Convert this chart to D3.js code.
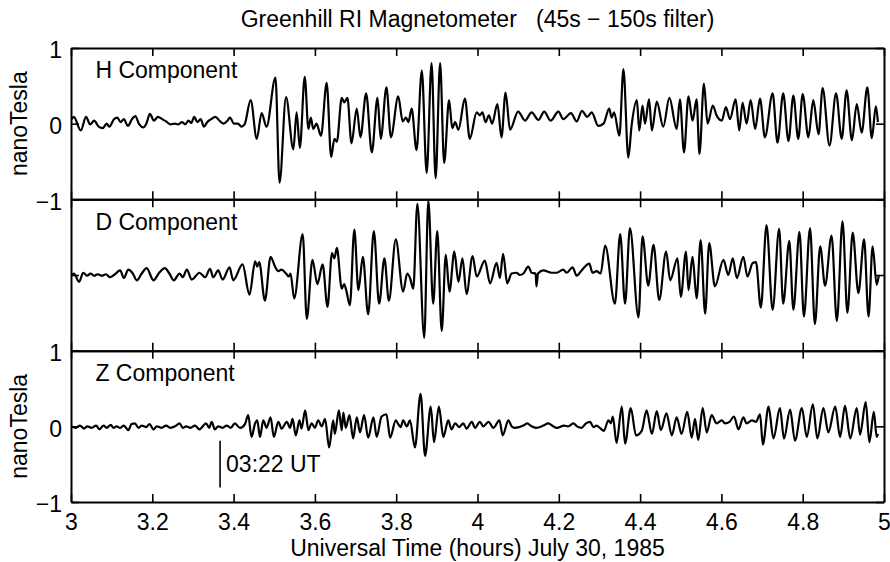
<!DOCTYPE html>
<html>
<head>
<meta charset="utf-8">
<script src="https://cdn.jsdelivr.net/npm/d3@7"></script>
<style>
  body { margin: 0; background: #fff; }
  svg text { font-family: "Liberation Sans", Arial, Helvetica, sans-serif; fill: #000; }
</style>
</head>
<body>
<svg id="chart" width="890" height="562"></svg>
<script>
/* Filtered magnetometer traces, [hours UT, nanoTesla] at the turning points */
var hSeries = [
  [3.002,0.06],[3.007,0.09],[3.024,-0.09],[3.037,0.09],[3.047,-0.01],[3.057,0.04],[3.068,-0.04],[3.078,-0.06],[3.088,0.00],[3.094,-0.04],
  [3.106,0.06],[3.114,0.08],[3.122,0.02],[3.130,0.06],[3.140,-0.03],[3.150,0.06],[3.158,0.10],[3.168,-0.01],[3.178,-0.05],[3.186,0.01],
  [3.194,0.13],[3.204,0.04],[3.214,0.09],[3.224,0.06],[3.234,0.03],[3.245,-0.01],[3.255,0.00],[3.263,-0.01],[3.273,0.02],[3.281,-0.01],
  [3.289,0.04],[3.296,0.01],[3.303,0.09],[3.311,0.02],[3.319,0.06],[3.327,-0.04],[3.335,0.02],[3.345,0.06],[3.355,0.09],[3.367,0.03],
  [3.375,0.00],[3.385,0.04],[3.391,0.08],[3.401,0.00],[3.411,0.00],[3.419,-0.04],[3.427,-0.01],[3.442,0.31],[3.457,-0.20],[3.469,0.14],
  [3.481,-0.04],[3.503,0.61],[3.513,-0.78],[3.529,0.35],[3.547,-0.34],[3.555,0.15],[3.563,-0.32],[3.575,0.62],[3.584,-0.07],[3.590,0.08],
  [3.596,-0.07],[3.604,0.00],[3.615,-0.16],[3.629,0.54],[3.640,-0.44],[3.648,-0.20],[3.654,-0.24],[3.666,0.34],[3.672,0.28],[3.680,0.34],
  [3.690,-0.26],[3.703,0.20],[3.712,-0.18],[3.726,0.40],[3.740,-0.38],[3.754,0.34],[3.762,-0.20],[3.776,0.48],[3.787,-0.18],[3.805,0.36],
  [3.816,0.03],[3.824,0.08],[3.830,0.02],[3.838,0.20],[3.850,-0.35],[3.863,0.70],[3.875,-0.65],[3.887,0.80],[3.897,-0.72],[3.908,0.80],
  [3.918,-0.52],[3.930,0.31],[3.938,-0.06],[3.945,0.02],[3.953,-0.08],[3.969,0.33],[3.981,-0.20],[3.998,0.15],[4.006,0.11],[4.012,0.15],
  [4.020,0.02],[4.028,0.11],[4.036,0.00],[4.049,0.26],[4.059,-0.18],[4.069,0.41],[4.080,-0.08],[4.100,0.16],[4.117,0.04],[4.133,0.15],
  [4.150,0.05],[4.164,0.16],[4.180,0.04],[4.199,0.16],[4.211,0.06],[4.230,0.14],[4.244,0.03],[4.257,0.17],[4.270,0.09],[4.281,0.15],
  [4.297,-0.03],[4.310,0.00],[4.324,0.20],[4.330,0.08],[4.336,0.15],[4.349,-0.16],[4.359,0.72],[4.371,-0.45],[4.379,-0.03],[4.392,0.31],
  [4.398,-0.09],[4.406,0.24],[4.412,0.00],[4.422,0.32],[4.429,-0.09],[4.441,0.29],[4.457,-0.04],[4.472,0.34],[4.490,-0.07],[4.498,0.32],
  [4.508,-0.38],[4.519,0.36],[4.529,0.04],[4.539,0.32],[4.546,-0.40],[4.557,0.53],[4.566,0.00],[4.579,0.24],[4.588,0.11],[4.601,0.04],
  [4.611,0.22],[4.621,0.06],[4.635,0.32],[4.644,-0.09],[4.652,0.28],[4.662,0.00],[4.672,0.31],[4.683,-0.07],[4.695,0.33],[4.707,-0.18],
  [4.726,0.40],[4.738,-0.25],[4.752,0.40],[4.765,-0.23],[4.777,0.37],[4.789,-0.20],[4.800,0.39],[4.814,-0.18],[4.826,0.31],[4.839,-0.14],
  [4.849,0.47],[4.866,-0.29],[4.882,0.40],[4.896,-0.20],[4.908,0.44],[4.921,-0.22],[4.933,0.26],[4.945,-0.12],[4.959,0.48],[4.970,-0.19],
  [4.980,0.23],[4.985,0.02]
];

var dSeries = [
  [3.002,0.00],[3.007,0.02],[3.020,-0.09],[3.030,0.03],[3.040,-0.01],[3.048,0.02],[3.057,-0.01],[3.066,0.01],[3.076,-0.01],[3.086,0.01],
  [3.096,-0.03],[3.108,0.01],[3.121,0.06],[3.130,-0.04],[3.141,0.07],[3.152,0.02],[3.162,-0.07],[3.174,0.02],[3.186,0.09],[3.203,-0.07],
  [3.217,0.03],[3.231,0.09],[3.242,0.02],[3.253,-0.07],[3.267,0.02],[3.275,-0.03],[3.285,0.07],[3.297,-0.06],[3.316,0.03],[3.330,-0.03],
  [3.342,0.08],[3.350,-0.03],[3.362,0.06],[3.373,-0.06],[3.390,0.10],[3.399,-0.07],[3.422,0.14],[3.439,-0.26],[3.453,0.18],[3.458,0.11],
  [3.463,0.17],[3.477,-0.34],[3.491,0.24],[3.502,0.11],[3.510,0.05],[3.518,0.07],[3.529,0.02],[3.536,-0.02],[3.540,0.02],[3.549,-0.31],
  [3.570,0.54],[3.580,-0.58],[3.594,0.20],[3.606,-0.12],[3.619,0.14],[3.631,-0.42],[3.642,0.29],[3.648,0.22],[3.654,0.36],[3.666,-0.18],
  [3.672,-0.12],[3.677,-0.20],[3.686,-0.40],[3.697,0.60],[3.707,-0.20],[3.718,0.24],[3.731,-0.52],[3.745,0.58],[3.758,-0.38],[3.771,0.22],
  [3.782,-0.34],[3.799,0.47],[3.817,-0.22],[3.827,0.02],[3.834,-0.04],[3.842,-0.18],[3.852,0.94],[3.869,-0.83],[3.879,0.98],[3.891,-0.38],
  [3.901,0.58],[3.912,-0.74],[3.922,0.27],[3.931,-0.22],[3.943,0.31],[3.953,-0.09],[3.963,0.22],[3.973,-0.25],[3.988,0.25],[3.998,-0.02],
  [4.018,0.19],[4.031,-0.11],[4.047,0.16],[4.055,-0.04],[4.063,0.28],[4.073,-0.11],[4.084,0.02],[4.096,0.03],[4.104,0.00],[4.113,0.02],
  [4.125,0.11],[4.133,0.03],[4.143,0.02],[4.145,-0.15],[4.149,0.02],[4.162,0.06],[4.182,0.03],[4.195,0.03],[4.211,0.07],[4.219,0.03],
  [4.234,0.10],[4.244,-0.01],[4.256,0.06],[4.275,0.15],[4.283,0.03],[4.293,0.05],[4.303,0.02],[4.314,0.39],[4.338,-0.38],[4.351,0.54],
  [4.363,-0.38],[4.375,0.62],[4.396,-0.56],[4.406,0.51],[4.420,-0.14],[4.433,0.40],[4.447,-0.33],[4.464,0.31],[4.474,-0.07],[4.492,0.22],
  [4.500,-0.29],[4.513,0.31],[4.519,-0.20],[4.529,0.24],[4.539,-0.31],[4.549,0.46],[4.560,-0.51],[4.570,0.42],[4.584,-0.15],[4.605,0.20],
  [4.617,0.00],[4.628,0.22],[4.638,-0.04],[4.654,0.24],[4.664,-0.02],[4.677,0.16],[4.685,0.17],[4.697,-0.43],[4.711,0.66],[4.726,-0.46],
  [4.742,0.61],[4.752,-0.38],[4.767,0.45],[4.777,-0.46],[4.792,0.57],[4.803,-0.55],[4.818,0.62],[4.830,-0.65],[4.843,0.38],[4.855,-0.14],
  [4.871,0.52],[4.884,-0.61],[4.898,0.71],[4.910,-0.50],[4.923,0.56],[4.937,-0.24],[4.951,0.47],[4.962,-0.55],[4.972,0.38],[4.982,-0.13],
  [4.987,-0.01]
];

var zSeries = [
  [3.002,0.00],[3.012,-0.02],[3.022,0.01],[3.032,-0.03],[3.040,0.00],[3.051,-0.02],[3.062,0.01],[3.070,-0.04],[3.080,0.01],[3.088,-0.02],
  [3.098,0.02],[3.104,-0.02],[3.112,0.00],[3.121,-0.02],[3.130,0.01],[3.141,-0.05],[3.149,0.03],[3.157,0.04],[3.166,-0.02],[3.174,0.01],
  [3.185,-0.01],[3.193,0.03],[3.203,-0.04],[3.211,0.00],[3.223,-0.02],[3.234,0.01],[3.244,-0.02],[3.256,0.00],[3.267,0.04],[3.275,-0.02],
  [3.283,0.00],[3.294,-0.02],[3.305,0.01],[3.316,-0.04],[3.324,0.00],[3.332,0.04],[3.340,-0.02],[3.346,0.06],[3.354,-0.04],[3.362,0.00],
  [3.373,-0.02],[3.383,0.01],[3.393,-0.02],[3.403,0.04],[3.416,-0.02],[3.428,0.03],[3.436,0.15],[3.444,-0.14],[3.453,0.04],[3.458,0.08],
  [3.465,-0.14],[3.473,0.08],[3.481,-0.02],[3.491,0.12],[3.499,-0.14],[3.510,0.06],[3.518,-0.03],[3.531,0.06],[3.539,-0.02],[3.545,0.10],
  [3.553,-0.12],[3.562,0.08],[3.567,-0.03],[3.576,0.21],[3.584,-0.05],[3.592,0.04],[3.600,-0.02],[3.608,0.08],[3.617,0.00],[3.625,0.10],
  [3.635,-0.28],[3.645,0.08],[3.649,-0.10],[3.659,0.21],[3.666,-0.05],[3.670,0.18],[3.676,-0.02],[3.685,0.15],[3.694,-0.16],[3.703,0.12],
  [3.711,-0.08],[3.721,0.15],[3.731,-0.15],[3.744,0.12],[3.752,-0.14],[3.764,0.13],[3.776,0.16],[3.785,-0.15],[3.799,0.08],[3.805,0.03],
  [3.811,-0.01],[3.817,0.08],[3.826,0.00],[3.834,0.08],[3.846,-0.28],[3.860,0.43],[3.871,-0.39],[3.885,0.26],[3.893,-0.21],[3.905,0.26],
  [3.916,-0.14],[3.928,0.08],[3.936,-0.04],[3.945,0.04],[3.955,-0.01],[3.965,0.04],[3.973,-0.03],[3.986,0.06],[3.994,-0.02],[4.006,0.06],
  [4.014,0.00],[4.027,0.06],[4.039,-0.02],[4.054,0.08],[4.062,-0.12],[4.076,0.08],[4.084,0.00],[4.092,-0.02],[4.113,0.01],[4.122,0.04],
  [4.133,0.00],[4.144,-0.02],[4.162,0.01],[4.174,0.04],[4.186,0.00],[4.195,-0.02],[4.213,0.01],[4.223,0.00],[4.236,0.04],[4.245,0.00],
  [4.256,-0.02],[4.267,0.04],[4.277,0.06],[4.285,-0.01],[4.293,0.01],[4.301,-0.02],[4.311,-0.06],[4.322,0.08],[4.328,0.04],[4.333,0.13],
  [4.342,-0.22],[4.355,0.26],[4.363,-0.23],[4.377,0.24],[4.390,-0.12],[4.404,-0.06],[4.416,0.21],[4.429,-0.10],[4.441,0.20],[4.451,-0.05],
  [4.465,0.17],[4.478,-0.12],[4.490,0.12],[4.502,-0.10],[4.516,0.19],[4.527,-0.15],[4.535,0.10],[4.543,-0.18],[4.554,0.24],[4.564,-0.08],
  [4.576,0.15],[4.588,0.04],[4.601,0.08],[4.609,0.04],[4.620,0.06],[4.631,0.13],[4.642,-0.04],[4.654,0.12],[4.662,0.04],[4.675,0.08],
  [4.685,0.06],[4.695,0.16],[4.702,-0.24],[4.716,0.26],[4.728,-0.16],[4.744,0.24],[4.754,-0.16],[4.769,0.22],[4.781,-0.19],[4.798,0.24],
  [4.810,-0.14],[4.825,0.29],[4.836,-0.16],[4.851,0.24],[4.863,-0.08],[4.880,0.26],[4.892,-0.14],[4.904,0.27],[4.917,-0.16],[4.933,0.24],
  [4.941,-0.11],[4.955,0.32],[4.964,-0.21],[4.975,0.19],[4.982,-0.14],[4.985,-0.10]
];

var panelNames = ["H Component", "D Component", "Z Component"];
var xTicks = [3, 3.2, 3.4, 3.6, 3.8, 4, 4.2, 4.4, 4.6, 4.8, 5];
var yTicks = [-1, 0, 1];
var yTickLabels = ["\u22121", "0", "1"];

/* Start of the pulsation event, marked on the Z trace */
var markerTime = 3.3667;
var markerSpan = [-0.19, -0.81];
var markerText = "03:22 UT";

var titleText = "Greenhill RI Magnetometer \u00a0\u00a0(45s \u2212 150s filter)";
var xLabelText = "Universal Time (hours) July 30, 1985";
var yLabelText = "nanoTesla";

var margin = {top: 48, right: 6, bottom: 60, left: 71};
var width = 890 - margin.left - margin.right;
var height = 562 - margin.top - margin.bottom;
var panelHeight = height / 3;
var fontSize = 23;

var x = d3.scaleLinear().domain([3, 5]).range([0, width]);
var y = d3.scaleLinear().domain([-1, 1]).range([panelHeight, 0]);

var trace = d3.line()
    .x(function(d) { return x(d[0]); })
    .y(function(d) { return y(d[1]); })
    .curve(d3.curveMonotoneX);

var svg = d3.select("#chart");
var chart = svg.append("g")
    .attr("transform", "translate(" + margin.left + "," + margin.top + ")");

var series = [hSeries, dSeries, zSeries];

series.forEach(function(data, i) {
    var panel = chart.append("g")
        .attr("transform", "translate(0," + (i * panelHeight) + ")");

    // the trace itself
    panel.append("path")
        .datum(data)
        .attr("fill", "none")
        .attr("stroke", "#000")
        .attr("stroke-width", 2.2)
        .attr("stroke-linejoin", "round")
        .attr("d", trace);

    // box with inward ticks on all four sides
    var top = panel.append("g")
        .call(d3.axisTop(x).tickValues(xTicks).tickSize(-8).tickSizeOuter(0).tickFormat(""));
    var bottom = panel.append("g")
        .attr("transform", "translate(0," + panelHeight + ")")
        .call(d3.axisBottom(x).tickValues(xTicks).tickSize(-8).tickSizeOuter(0)
            .tickPadding(12)
            .tickFormat(i == 2 ? d3.format("~g") : ""));
    var left = panel.append("g")
        .call(d3.axisLeft(y).tickValues(yTicks).tickSize(-8).tickSizeOuter(0)
            .tickPadding(9)
            .tickFormat(i == 1 ? "" : function(d, k) { return yTickLabels[k]; }));
    var right = panel.append("g")
        .attr("transform", "translate(" + width + ",0)")
        .call(d3.axisRight(y).tickValues(yTicks).tickSize(-8).tickSizeOuter(0).tickFormat(""));

    [top, bottom, left, right].forEach(function(ax) {
        ax.attr("font-size", fontSize).attr("font-family", null);
        ax.select(".domain").attr("stroke-width", 2);
        ax.selectAll(".tick line").attr("stroke-width", 1.6);
    });
    left.selectAll(".tick text").attr("dy", "0.42em");

    panel.append("text")
        .attr("x", x(3.06))
        .attr("y", y(0.6))
        .attr("font-size", fontSize)
        .text(panelNames[i]);

    if (i != 1) {
        panel.append("text")
            .attr("transform", "translate(" + (27 - margin.left) + "," + y(0) + ") rotate(-90)")
            .attr("text-anchor", "middle")
            .attr("font-size", fontSize)
            .text(yLabelText);
    }

    if (i == 2) {
        panel.append("line")
            .attr("x1", x(markerTime)).attr("x2", x(markerTime))
            .attr("y1", y(markerSpan[0])).attr("y2", y(markerSpan[1]))
            .attr("stroke", "#000")
            .attr("stroke-width", 1.6);
        panel.append("text")
            .attr("x", x(markerTime) + 6)
            .attr("y", y(-0.6))
            .attr("font-size", fontSize)
            .text(markerText);
    }
});

svg.append("text")
    .attr("x", margin.left + width / 2)
    .attr("y", 27)
    .attr("text-anchor", "middle")
    .attr("font-size", fontSize)
    .text(titleText);

svg.append("text")
    .attr("x", margin.left + width / 2)
    .attr("y", 556)
    .attr("text-anchor", "middle")
    .attr("font-size", fontSize)
    .text(xLabelText);
</script>
</body>
</html>
